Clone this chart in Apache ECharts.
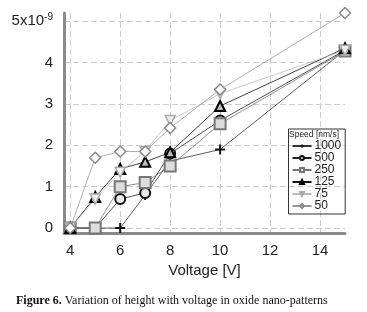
<!DOCTYPE html>
<html>
<head>
<meta charset="utf-8">
<script src="https://cdn.jsdelivr.net/npm/echarts@6/dist/echarts.min.js"></script>
<style>
	html, body {margin: 0; padding: 0; background: #fff;}
	#chart {width: 367px; height: 312px;}
</style>
</head>
<body>
<div id="chart"></div>
<script>
// voltage steps [V]
var voltage = [4, 5, 6, 7, 8, 10, 15];
// heights, in units of 1e-9 m
var speed1000 = [0, 0, 0, 0.8, 1.62, 1.9, 4.3];
var speed500 = [0, 0, 0.7, 0.85, 1.8, 2.6, 4.3];
var speed250 = [0, 0, 1.0, 1.1, 1.5, 2.52, 4.28];
var speed125 = [0, 0.75, 1.43, 1.6, 1.83, 2.95, 4.35];
var speed75 = [0, 0.7, 1.35, 1.85, 2.6, 3.25, 4.3];
var speed50 = [0, 1.7, 1.85, 1.85, 2.42, 3.35, 5.2];
var speedNames = ['1000', '500', '250', '125', '75', '50'];
var xTicks = [4, 6, 8, 10, 12, 14];
var yTicks = [0, 1, 2, 3, 4, 5];

var chart = echarts.init(document.getElementById('chart'));

function pairs(ys) {
	return voltage.map(function(v, i) { return [v, ys[i]]; });
}

var plusSym = 'path://M4,0h2v4h4v2h-4v4h-2v-4h-4v-2h4z';
var downTri = 'path://M0,0L10,0L5,9z';

function line(name, ys, sym, size, lineColor, border, fill, bw) {
	return {
		name: name,
		type: 'line',
		data: pairs(ys),
		symbol: sym,
		symbolSize: size,
		showAllSymbol: true,
		lineStyle: {color: lineColor, width: 0.8},
		itemStyle: {color: fill, borderColor: border, borderWidth: bw},
		emphasis: {disabled: true},
		animation: false
	};
}

var option = {
	animation: false,
	textStyle: {fontFamily: 'Liberation Sans'},
	title: [
		{
			text: '{b|Figure 6.} Variation of height with voltage in oxide nano-patterns',
			left: 11, top: 290,
			textStyle: {
				fontFamily: 'Liberation Serif', fontSize: 12, fontWeight: 'normal', color: '#111',
				rich: {b: {fontFamily: 'Liberation Serif', fontSize: 12, fontWeight: 'bold', color: '#111'}}
			}
		},
		{
			text: 'Speed [nm/s]',
			left: 289, top: 130.5,
			padding: 0,
			textStyle: {fontFamily: 'Liberation Sans', fontSize: 8.5, fontWeight: 'normal', color: '#222'}
		}
	],
	legend: {
		orient: 'vertical',
		left: 288.5, top: 129,
		width: 50,
		padding: [11, 4, 2, 3],
		itemGap: 0,
		itemWidth: 19,
		itemHeight: 5,
		borderColor: '#333',
		borderWidth: 1,
		textStyle: {fontSize: 12, color: '#222', padding: [0, 0, 0, -2], lineHeight: 10.8},
		data: speedNames
	},
	grid: {left: 64, right: 22, top: 13, bottom: 79, outerBoundsMode: 'none'},
	xAxis: {
		type: 'value',
		min: 3.75, max: 15,
		name: 'Voltage [V]',
		nameLocation: 'middle',
		nameGap: 29,
		nameTextStyle: {fontSize: 15, color: '#222'},
		axisLine: {onZero: false, lineStyle: {color: '#8a8a8a', width: 3}},
		axisTick: {show: false, customValues: xTicks},
		axisLabel: {customValues: xTicks, fontSize: 15, color: '#222', margin: 10},
		splitLine: {show: true, lineStyle: {color: '#ccc', type: [6, 3], width: 1}}
	},
	yAxis: {
		type: 'value',
		min: -0.12, max: 5.2,
		name: 'Height [m]',
		nameLocation: 'middle',
		nameGap: 46,
		nameTextStyle: {fontSize: 15, color: '#222'},
		axisLine: {show: true, lineStyle: {color: '#8a8a8a', width: 3}},
		axisTick: {show: false, customValues: yTicks},
		axisLabel: {
			customValues: yTicks,
			fontSize: 15, color: '#222', margin: 11,
			formatter: function(v) {
				return v === 5 ? '5x10{s|-9}' : String(v);
			},
			rich: {s: {fontSize: 10, color: '#222', verticalAlign: 'top', padding: [0, 0, 9, 0]}}
		},
		splitLine: {show: true, lineStyle: {color: '#ccc', type: [6, 3], width: 1}}
	},
	series: [
		line('1000', speed1000, plusSym, 10, '#333', '#111', '#111', 0),
		line('500', speed500, 'circle', 10, '#222', '#111', '#e8e8e8', 2),
		line('250', speed250, 'rect', 11, '#777', '#777', '#ddd', 2),
		line('125', speed125, 'triangle', 10, '#111', '#000', '#bbb', 2),
		line('75', speed75, downTri, 10, '#bbb', '#aaa', '#eee', 1.5),
		line('50', speed50, 'diamond', 11, '#999', '#888', '#fff', 1.5)
	]
};
chart.setOption(option);
</script>
</body>
</html>
